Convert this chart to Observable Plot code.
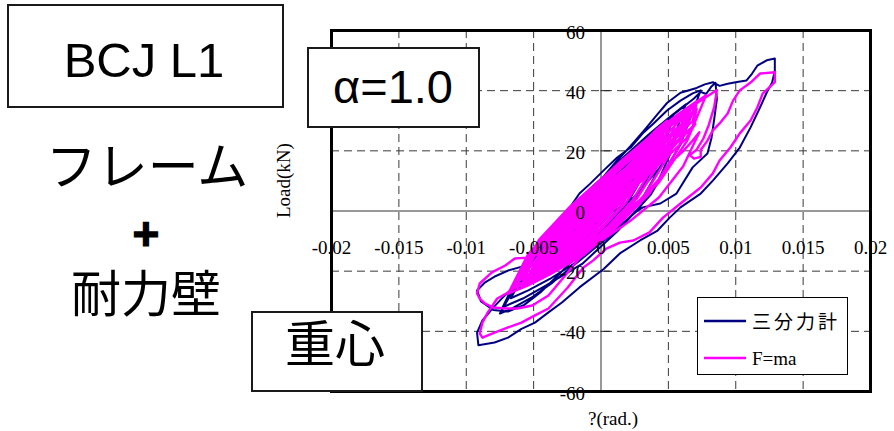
<!DOCTYPE html>
<html>
<head>
<meta charset="utf-8">
<script src="https://cdn.jsdelivr.net/npm/d3@7"></script>
<script src="https://cdn.jsdelivr.net/npm/@observablehq/plot@0.6"></script>
<style>
  html, body { margin: 0; padding: 0; background: #fff; }
  #chart { width: 894px; height: 431px; }
  #chart svg { display: block; }
</style>
</head>
<body>
<div id="chart"></div>
<script>
// Axis ticks
const driftTicks = [-0.02, -0.015, -0.01, -0.005, 0, 0.005, 0.01, 0.015, 0.02];
const driftTickLabels = ["-0.02", "-0.015", "-0.01", "-0.005", "0", "0.005", "0.01", "0.015", "0.02"];
const loadTicks = [-60, -40, -20, 0, 20, 40, 60];
const driftGrid = [-0.015, -0.01, -0.005, 0.005, 0.01, 0.015];
const loadGrid = [-40, -20, 20, 40];

// Series
const seriesNames = ["三分力計", "F=ma"];
const seriesColors = ["#000080", "#ff00ff"];

// Load-cell record (三分力計): [drift (rad), load (kN)] in time order
const loadCellPath = [
  [0,0],[-0.0007,-3.1],[-0.0014,-5.6],[-0.0022,-9],
  [-0.0018,-5.1],[-0.0012,-1.8],[-0.0006,1.3],[0.0001,4.5],[0.0008,7.4],[0.0013,9.1],[0.0017,10.5],
  [0.0012,4.6],[0.0005,-0.8],[-0.0003,-4.8],[-0.0012,-8.3],[-0.002,-10.7],[-0.0026,-12.1],[-0.0031,-13],
  [-0.0025,-7],[-0.0017,-1.9],[-0.0007,2.9],[0.0004,7.7],[0.0014,12.2],[0.0021,14.9],[0.0027,17],
  [0.002,8.6],[0.0011,0.9],[-0.0001,-4.8],[-0.0013,-9.8],[-0.0024,-13.2],[-0.0032,-15.2],[-0.0039,-16.5],
  [-0.0032,-8.8],[-0.002,-2.3],[-0.0007,3.9],[0.0006,10.1],[0.002,15.8],[0.0029,19.3],[0.0036,22],
  [0.0028,11.5],[0.0015,1.8],[0.0001,-5.3],[-0.0014,-11.6],[-0.0029,-15.8],[-0.0039,-18.3],[-0.0047,-20],
  [-0.0038,-10.6],[-0.0024,-2.6],[-0.0008,4.9],[0.0008,12.4],[0.0025,19.5],[0.0036,23.7],[0.0045,27],
  [0.0035,14.5],[0.002,3],[0.0003,-5.5],[-0.0014,-13],[-0.0032,-18],[-0.0044,-21],[-0.0054,-23],
  [-0.0043,-12.1],[-0.0027,-2.8],[-0.0009,5.9],[0.0011,14.6],[0.003,22.8],[0.0043,27.7],[0.0054,31.5],
  [0.0043,17.1],[0.0025,3.9],[0.0006,-5.9],[-0.0015,-14.5],[-0.0036,-20.3],[-0.005,-23.7],[-0.0061,-26],
  [-0.0049,-13.7],[-0.003,-3.2],[-0.0009,6.6],[0.0013,16.4],[0.0036,25.7],[0.0051,31.2],[0.0063,35.5],
  [0.005,19.4],[0.0031,4.5],[0.0008,-6.4],[-0.0015,-16.1],[-0.0038,-22.6],[-0.0054,-26.4],[-0.0067,-29],
  [-0.006,-23.5],[-0.0051,-17.2],[-0.0041,-10.5],[-0.003,-4.1],[-0.0023,1.2],[-0.0016,5.8],[-0.0008,9.1],
  [0.0002,13.5],[0.0012,17.8],[0.0022,21.1],[0.0031,25.8],[0.0039,29.1],[0.0049,33.4],[0.0059,36.7],[0.0068,39.1],[0.0074,40.1],
  [0.0059,22.1],[0.0037,5.5],[0.0012,-6.8],[-0.0014,-17.6],[-0.0041,-24.8],[-0.0058,-29.1],[-0.0073,-32],
  [-0.0057,-17.1],[-0.0034,-4.4],[-0.0007,7.5],[0.0022,19.5],[0.005,30.7],[0.0069,37.4],[0.0074,39.6],[0.0078,38.9],[0.0082,41.4],[0.0085,42.6],
  [0.0086,37.2],[0.0084,30.5],[0.0082,24.3],[0.0079,19.1],[0.0068,14.5],[0.0056,5.8],[0.0044,2.5],[0.0031,1.2],[0.0024,-0.8],
  [0.0014,-5.5],[-0.0002,-11.4],[-0.0019,-17.6],[-0.0036,-23.8],[-0.0052,-28.9],[-0.0066,-32.4],[-0.0075,-34.1],
  [-0.0068,-28.5],[-0.006,-22.4],[-0.005,-15.8],[-0.0039,-9.6],[-0.0027,-3.1],[-0.0017,2.9],[-0.0008,7.4],[0.0002,11.5],
  [0.0012,16.8],[0.0022,21.6],[0.0032,26.8],[0.0042,32.2],[0.0049,35.9],[0.0059,39.3],[0.0071,40.9],[0.0077,42.1],
  [0.0083,42.8],[0.0088,41.6],[0.0094,42.3],[0.0101,42.9],[0.0108,43.4],[0.0112,45.6],[0.0116,48.3],[0.0123,50.1],
  [0.0129,50.7],[0.0129,46.6],
  [0.0127,42.7],[0.0123,39.4],[0.0118,34.4],[0.0111,27.8],[0.0103,21.1],[0.0094,15.8],[0.0083,10.1],[0.0074,5.8],
  [0.0059,1.2],[0.0051,-2.2],[0.0042,-6.5],[0.0029,-9.8],[0.0014,-14.1],[0.0002,-19.3],[-0.0016,-25.4],[-0.0029,-30.4],
  [-0.0039,-33.7],[-0.0049,-37.1],[-0.0059,-39.2],[-0.0069,-42.1],[-0.0079,-43.7],[-0.0091,-44.6],[-0.0092,-40.4],
  [-0.0088,-36.4],[-0.008,-32.1],[-0.0073,-28.8],[-0.0065,-25.4],[-0.0055,-22.1],[-0.0045,-19.8],[-0.0036,-16.5],
  [-0.0023,-11.5],[-0.0012,-6.5],[0,-1.5],[0.001,3.5],[0.0021,9.8],[0.0031,15.6],[0.0038,19.4],
  [0.0033,14.1],[0.0022,7.6],[0.0008,1.4],[-0.0008,-4.8],[-0.0025,-10.6],[-0.0042,-15.3],[-0.0058,-18.4],[-0.0069,-19.8],
  [-0.0078,-21.6],[-0.0086,-23.7],[-0.0092,-26.4],[-0.0089,-30.1],[-0.008,-32.9],[-0.0069,-33.4],[-0.0057,-31.2],
  [-0.0045,-27.1],[-0.003,-20.5],[-0.0015,-13.6],[0.0001,-6.4],[0.0016,0.6],[0.003,7.3],[0.0043,14.2],[0.0052,19.6],
  [0.0042,9.5],[0.0027,0.1],[0.0009,-6.8],[-0.0009,-12.9],[-0.0028,-16.9],[-0.004,-19.4],[-0.005,-21],
  [-0.0042,-13],[-0.003,-6.2],[-0.0016,0.2],[-0.0001,6.6],[0.0014,12.6],[0.0024,16.2],[0.0032,19],
  [0.0026,12],[0.0018,5.6],[0.0008,0.8],[-0.0002,-3.4],[-0.0012,-6.2],[-0.0018,-7.9],[-0.0024,-9],
  [-0.0017,-5.2],[-0.0009,-2.1],[0,0]
];

// Inertial-force record (F=ma): [drift (rad), load (kN)] in time order
const inertiaPath = [
  [0,0],[-0.0008,-3.5],[-0.0016,-6.4],[-0.0025,-10],
  [-0.0021,-6.2],[-0.0015,-3],[-0.0008,0.1],[-0.0001,3.1],[0.0006,6],[0.0011,7.7],[0.0015,9],
  [0.001,3.5],[0.0003,-1.6],[-0.0005,-5.3],[-0.0014,-8.6],[-0.0022,-10.8],[-0.0028,-12.1],[-0.0033,-13],
  [-0.0027,-7.4],[-0.0018,-2.6],[-0.0008,1.8],[0.0002,6.3],[0.0013,10.5],[0.002,13],[0.0026,15],
  [0.0019,7.3],[0.0009,0.1],[-0.0002,-5.2],[-0.0014,-9.8],[-0.0026,-12.9],[-0.0034,-14.8],[-0.0041,-16],
  [-0.0034,-8.9],[-0.0022,-2.9],[-0.001,2.8],[0.0004,8.5],[0.0018,13.8],[0.0027,17],[0.0034,19.5],
  [0.0026,9.9],[0.0014,1],[0,-5.5],[-0.0015,-11.3],[-0.0029,-15.2],[-0.0039,-17.5],[-0.0047,-19],
  [-0.0038,-10.4],[-0.0025,-3.1],[-0.001,3.8],[0.0006,10.7],[0.0022,17.1],[0.0033,21],[0.0042,24],
  [0.0033,12.8],[0.0018,2.4],[0.0002,-5.3],[-0.0015,-12],[-0.0032,-16.5],[-0.0044,-19.2],[-0.0053,-21],
  [-0.0043,-11.3],[-0.0027,-3.1],[-0.001,4.7],[0.0009,12.5],[0.0027,19.7],[0.004,24.1],[0.005,27.5],
  [0.0039,14.9],[0.0023,3.3],[0.0005,-5.3],[-0.0015,-12.9],[-0.0034,-17.9],[-0.0047,-21],[-0.0058,-23],
  [-0.0047,-12.2],[-0.0029,-3],[-0.001,5.6],[0.0011,14.3],[0.0032,22.4],[0.0046,27.2],[0.0057,31],
  [0.0045,17.1],[0.0027,4.4],[0.0007,-5.1],[-0.0014,-13.4],[-0.0036,-19],[-0.005,-22.3],[-0.0062,-24.5],
  [-0.0049,-12.8],[-0.0031,-2.9],[-0.0009,6.5],[0.0014,15.9],[0.0036,24.6],[0.0051,29.9],[0.0064,34],
  [0.0051,19],[0.0032,5.2],[0.001,-5],[-0.0014,-14],[-0.0037,-20],[-0.0053,-23.6],[-0.0066,-26],
  [-0.0052,-13.5],[-0.0032,-2.9],[-0.0008,7.1],[0.0016,17.1],[0.0041,26.5],[0.0057,32.1],[0.0071,36.5],
  [0.0057,20.5],[0.0036,5.8],[0.0012,-5.1],[-0.0013,-14.7],[-0.0038,-21.1],[-0.0055,-24.9],[-0.0069,-27.5],
  [-0.0054,-14.3],[-0.0032,-3.1],[-0.0007,7.5],[0.0019,18],[0.0046,28],[0.0063,33.9],[0.0078,38.5],
  [0.0064,23.4],[0.0043,9.5],[0.002,-0.8],[-0.0005,-9.9],[-0.003,-16],[-0.0047,-19.6],[-0.0061,-22],
  [-0.0054,-22],[-0.0047,-17],[-0.0036,-12],[-0.0023,-6],[-0.001,0],[0.0003,6],[0.0016,12],[0.0029,18],[0.0042,24],[0.0053,29],[0.0066,33],
  [0.0059,28],[0.0046,22],[0.0033,16],[0.002,10],[0.0007,4],[-0.0006,-2],[-0.0019,-8],[-0.0032,-14],[-0.0046,-20],[-0.0058,-25],
  [-0.0053,-21],[-0.004,-15],[-0.0027,-9],[-0.0014,-3],[0,3],[0.0013,9],[0.0026,15],[0.0039,21],[0.0052,27],[0.0063,32],[0.0071,36],
  [0.0068,30],[0.0055,24],[0.0042,18],[0.0029,12],[0.0016,6],[0.0003,0],[-0.001,-6],[-0.0023,-12],[-0.0036,-18],[-0.0047,-23],
  [-0.0055,-19],[-0.0048,-14],[-0.0035,-8],[-0.0022,-2],[-0.0009,4],[0.0004,10],[0.0017,16],[0.003,22],[0.0041,27],[0.0049,30],
  [0.0046,25],[0.0033,19],[0.002,13],[0.0007,7],[-0.0006,1],[-0.0019,-5],[-0.0032,-11],[-0.0045,-17],[-0.0056,-22],
  [-0.004,-17],[-0.0027,-11],[-0.0014,-5],[-0.0001,1],[0.0012,7],[0.0025,13],[0.0038,19],[0.0051,25],[0.0062,30],[0.0071,34],
  [0.0068,28],[0.0055,22],[0.004,15],[0.0024,8],[0.0009,1],[-0.0006,-6],[-0.0021,-13],[-0.0034,-19],[-0.0044,-22],
  [-0.0047,-16],[-0.0034,-10],[-0.0021,-4],[-0.0008,2],[0.0005,8],[0.0018,14],[0.0031,20],[0.0042,25],
  [0.0043,20],[0.003,14],[0.0017,8],[0.0004,2],[-0.0009,-4],[-0.0022,-10],[-0.0035,-16],[-0.0046,-21],
  [-0.0044,-16],[-0.0031,-10],[-0.0018,-4],[-0.0002,3],[0.0012,9],[0.0027,15],[0.0041,21],[0.0055,27],[0.0065,31],
  [0.0058,26],[0.0044,20],[0.0029,14],[0.0015,8],[0.0001,2],[-0.0013,-4],[-0.0026,-10],[-0.0039,-16],[-0.0052,-22],
  [-0.0032,-15],[-0.0019,-9],[-0.0006,-3],[0.0008,3],[0.0022,9],[0.0037,15],[0.0051,21],[0.0063,26],[0.007,29],
  [0.0063,24],[0.0049,18],[0.0035,12],[0.002,6],[0.0006,0],[-0.0007,-6],[-0.002,-12],[-0.0033,-18],[-0.0046,-21],
  [-0.0045,-14],[-0.0032,-8],[-0.0019,-2],[-0.0005,4],[0.0009,10],[0.0023,16],[0.0037,22],[0.0051,28],[0.0061,32],
  [0.0062,27],[0.0048,21],[0.0034,15],[0.0019,9],[0.0005,3],[-0.0009,-3],[-0.0022,-9],[-0.0035,-15],[-0.0048,-21],[-0.0054,-24],
  [-0.0046,-18],[-0.0031,-12],[-0.002,-6],[-0.0005,0],[0.0008,6],[0.0022,12],[0.0038,18],[0.005,24],[0.0064,29],
  [0.0057,23],[0.0042,17],[0.0028,11],[0.0014,5],[0,-1],[-0.0013,-7],[-0.0026,-13],[-0.0039,-19],[-0.005,-21],
  [-0.0045,-15],[-0.0032,-9],[-0.0019,-3],[-0.0005,3],[0.0009,9],[0.0024,15],[0.0036,20],
  [0.004,15],[0.0025,9],[0.0011,3],[-0.0003,-3],[-0.0016,-9],[-0.0029,-15],[-0.004,-20],[-0.0061,-22],
  [-0.0046,-9.6],[-0.0024,1],[0.0001,11],[0.0027,20.9],[0.0054,30.2],[0.0071,35.8],[0.0086,40.2],
  [0.0084,34.5],[0.008,28.6],[0.0076,24.1],[0.0071,20.4],[0.0066,18.6],[0.0069,17.4],[0.0074,18],[0.0074,20.3],
  [0.0079,23.4],[0.0083,26.8],[0.0088,29.1],[0.0094,32.4],[0.0098,36.7],[0.0103,40.1],[0.0111,42.7],[0.0118,45.7],[0.0129,46.1],
  [0.0129,42.8],[0.012,39],[0.0116,34.4],[0.0111,30.1],[0.0103,25.8],[0.0096,21.1],[0.0088,16.8],[0.0083,12.5],
  [0.0074,7.8],[0.0059,2.5],[0.0046,-2.2],[0.0036,-7.1],[0.0024,-9.8],[0.0014,-10.5],[0.0004,-12.5],[-0.0006,-16.5],
  [-0.0013,-18.8],[-0.0025,-25.6],[-0.0039,-32.4],[-0.0049,-34.7],[-0.0059,-37.1],[-0.0069,-38.7],[-0.0079,-40.4],
  [-0.0088,-42.1],[-0.009,-40.7],
  [-0.0088,-37.1],[-0.0084,-33.7],[-0.0077,-29.1],[-0.0069,-27.1],[-0.0062,-24.1],[-0.0051,-17.6],[-0.0037,-9.8],
  [-0.0022,-2.1],[-0.0006,4.9],[0.001,11.2],[0.0026,16.9],[0.004,21.3],
  [0.0032,14.2],[0.0019,6.9],[0.0004,0.2],[-0.0012,-5.4],[-0.0028,-10.2],[-0.0044,-13.8],[-0.0054,-15.5],
  [-0.0064,-15.8],[-0.0071,-18.1],[-0.0081,-20.4],[-0.009,-24.1],[-0.0092,-27.4],
  [-0.009,-29.1],[-0.0086,-30.8],[-0.008,-32.1],[-0.0071,-32.4],[-0.0062,-32.4],[-0.0051,-31.4],[-0.0039,-28.1],
  [-0.0025,-20.6],[-0.001,-12.4],[0.0007,-5.5],[0.0019,0.2],[0.0031,4.5],[0.0044,11.1],[0.0051,15.8],[0.0061,19.9],
  [0.0068,23.4],[0.0073,26.2],
  [0.0061,14.9],[0.0043,4.5],[0.0022,-3.2],[0,-10],[-0.0021,-14.5],[-0.0036,-17.2],[-0.0048,-19],
  [-0.004,-11.4],[-0.0027,-4.9],[-0.0013,1.1],[0.0002,7.2],[0.0017,12.9],[0.0027,16.3],[0.0035,19],
  [0.0029,11.8],[0.002,5.1],[0.0009,0.2],[-0.0002,-4.2],[-0.0013,-7.1],[-0.002,-8.8],[-0.0026,-10],
  [-0.002,-5.5],[-0.0012,-1.2],[-0.0004,2.3],[0.0003,4.1]
];

const serif = "'Liberation Serif', 'Times New Roman', serif";
const sans = "'Liberation Sans', Arial, sans-serif";
const cjkLegend = "'Noto Sans CJK JP', 'Noto Sans', sans-serif";
// Latin face first keeps the line box compact; the kana and kanji come from Noto Sans CJK JP
const cjkTitle = "'Liberation Sans', 'Noto Sans CJK JP', sans-serif";

const chart = Plot.plot({
  width: 894,
  height: 431,
  marginLeft: 331,
  marginRight: 24,
  marginTop: 30,
  marginBottom: 40,
  x: {domain: [-0.02, 0.02], axis: null},
  y: {domain: [-60, 60], axis: null},
  style: {background: "#fff", fontFamily: serif, color: "#000", overflow: "visible"},
  marks: [
    // dashed grid
    Plot.ruleX(driftGrid, {stroke: "#3a3a3a", strokeWidth: 1, strokeDasharray: "8,5"}),
    Plot.ruleY(loadGrid, {stroke: "#3a3a3a", strokeWidth: 1, strokeDasharray: "8,5"}),
    // axes through the origin
    Plot.ruleX([0], {stroke: "#333", strokeWidth: 1}),
    Plot.ruleY([0], {stroke: "#333", strokeWidth: 1}),
    Plot.ruleY(loadTicks, {x1: 0, x2: 0.0007, stroke: "#222", strokeWidth: 1}),
    // hysteresis records
    Plot.line(loadCellPath, {x: d => d[0], y: d => d[1], stroke: seriesColors[0], strokeWidth: 2, strokeLinejoin: "round"}),
    Plot.line(inertiaPath, {x: d => d[0], y: d => d[1], stroke: seriesColors[1], strokeWidth: 2.4, strokeLinejoin: "round"}),
    Plot.frame({stroke: "#000", strokeWidth: 3}),
    // tick labels
    Plot.text(driftTicks, {x: d => d, y: 0, text: (d, i) => driftTickLabels[i], dy: 37, fontSize: 19, fill: "#000"}),
    Plot.text(loadTicks, {x: 0, y: d => d, text: d => String(d), dx: -16, dy: 2, textAnchor: "end", fontSize: 19, fill: "#000"}),
    // axis titles
    Plot.text(["Load(kN)"], {frameAnchor: "left", text: d => d, dx: -48, dy: 7, rotate: -90, fontSize: 19, fill: "#000"}),
    Plot.text(["?(rad.)"], {frameAnchor: "bottom", text: d => d, dx: 12, dy: 27, lineAnchor: "middle", fontSize: 19, fill: "#000"})
  ]
});

document.getElementById("chart").appendChild(chart);

const svg = d3.select(chart);

// Legend
const legend = svg.append("g").attr("text-anchor", "start");
legend.append("rect")
  .attr("x", 697.5).attr("y", 297.5).attr("width", 150).attr("height", 77)
  .attr("fill", "#fff").attr("stroke", "#000").attr("stroke-width", 1);
const legendRows = [{y: 321, baseline: 329, font: cjkLegend, spacing: 3}, {y: 358, baseline: 365, font: serif, spacing: 0}];
seriesNames.forEach((name, i) => {
  const row = legendRows[i];
  legend.append("line")
    .attr("x1", 704).attr("x2", 746).attr("y1", row.y).attr("y2", row.y)
    .attr("stroke", seriesColors[i]).attr("stroke-width", 2.5);
  legend.append("text")
    .attr("x", 752).attr("y", row.baseline)
    .attr("text-anchor", "start")
    .attr("font-family", row.font).attr("font-size", 19)
    .attr("letter-spacing", row.spacing)
    .attr("fill", "#000").text(name);
});

// Annotation boxes
function labelBox(x, y, w, h) {
  svg.append("rect")
    .attr("x", x).attr("y", y).attr("width", w).attr("height", h)
    .attr("fill", "#fff").attr("stroke", "#1a1a1a").attr("stroke-width", 2);
}
function label(txt, x, y, size, font, weight, strokeW) {
  const t = svg.append("text")
    .attr("x", x).attr("y", y)
    .attr("text-anchor", "middle")
    .attr("font-family", font).attr("font-size", size)
    .attr("font-weight", weight || "normal")
    .attr("fill", "#000").text(txt);
  if (strokeW) t.attr("stroke", "#000").attr("stroke-width", strokeW);
}

labelBox(8, 5, 275, 102);
label("BCJ L1", 144, 77, 49, sans);
label("フレーム", 147, 185, 51, cjkTitle);
label("+", 146, 250, 46, sans, "bold", 1.2);
label("耐力壁", 146, 312, 50, cjkTitle);

labelBox(308, 48, 171, 79);
label("α=1.0", 393, 103, 47, sans);

labelBox(252, 312, 170, 79);
label("重心", 335, 362, 50, cjkTitle);
</script>
</body>
</html>
